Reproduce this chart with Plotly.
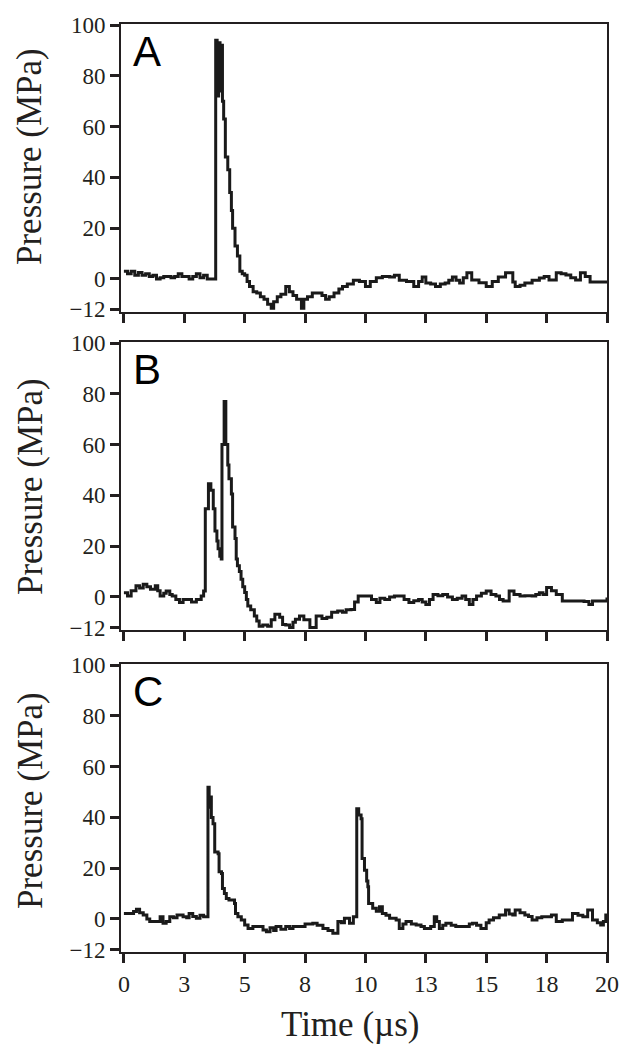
import plotly.graph_objects as go
from plotly.subplots import make_subplots

# Pressure traces (time in microseconds, pressure in MPa)
time_a = [0, 0.15, 0.3, 0.45, 0.6, 0.75, 0.9, 1.05, 1.2, 1.35, 1.5, 1.65, 1.8, 1.95, 2.1,
          2.25, 2.4, 2.55, 2.7, 2.85, 3.0, 3.15, 3.3, 3.45, 3.6, 3.72, 3.8, 3.86, 3.92, 3.98,
          4.04, 4.08, 4.13, 4.2, 4.3, 4.38, 4.45, 4.5, 4.6, 4.7, 4.8, 4.9, 5.0, 5.1, 5.2,
          5.35, 5.5, 5.65, 5.8, 5.95, 6.1, 6.2, 6.35, 6.5, 6.7, 6.85, 7.0, 7.15, 7.35, 7.45,
          7.6, 7.8, 8.0, 8.2, 8.35, 8.5, 8.7, 8.9, 9.05, 9.25, 9.5, 9.75, 10.0, 10.2, 10.45,
          10.7, 11.0, 11.2, 11.4, 11.7, 12.0, 12.2, 12.35, 12.5, 12.7, 12.9, 13.1, 13.3, 13.45,
          13.6, 13.75, 13.9, 14.05, 14.2, 14.4, 14.7, 15.0, 15.25, 15.5, 15.8, 16.1, 16.2,
          16.4, 16.6, 16.9, 17.2, 17.4, 17.6, 17.9, 18.1, 18.3, 18.5, 18.7, 18.9, 19.1, 19.3,
          19.6, 20.0]
pressure_a = [3, 2, 3, 1.5, 2.5, 1.5, 2, 1, 1.5, 0, 0.5, 1, 1, 0.5, 1,
              2, 1, 1, 0, 1, 2, 0.5, 1.5, 0, 0, 0, 94, 72, 93, 74,
              92, 70, 63, 48, 43, 34, 27, 20, 13, 9, 3, 2, 1.5, -1, -3,
              -5, -5.5, -7, -8, -10, -11.5, -9, -7, -6, -3, -5, -6.5, -8, -11.5, -8,
              -7, -5.5, -5.5, -6.5, -8, -7, -5.5, -4, -3, -2, -0.5, -1, -3, -1, 0.5,
              1, 0.8, 1.5, -0.5, -1, -3, -1, 0.8, -1.6, -2, -3, -2, -1.6, -0.5,
              0.8, -0.5, -1.6, 0.5, 2.4, -0.4, -1.5, -3, -1, 0.8, 2.4, -1.2, -3,
              -2.5, -1.6, -0.5, 0.4, 1, -0.4, 2.4, 2, 1.6, 0.5, -0.4, 2.4, 1, -1.2,
              -1.2, -1.2]

time_b = [0, 0.15, 0.3, 0.5, 0.65, 0.8, 0.95, 1.1, 1.3, 1.4, 1.5, 1.65, 1.75, 1.9, 2.0,
          2.15, 2.3, 2.45, 2.6, 2.8, 3.0, 3.2, 3.3, 3.37, 3.5, 3.6, 3.7, 3.77, 3.85, 3.9,
          3.97, 4.03, 4.06, 4.15, 4.22, 4.3, 4.35, 4.45, 4.5, 4.6, 4.65, 4.7, 4.78, 4.85,
          4.92, 5.0, 5.07, 5.13, 5.25, 5.4, 5.5, 5.6, 5.75, 5.95, 6.1, 6.25, 6.45, 6.57,
          6.7, 6.86, 7.0, 7.1, 7.27, 7.45, 7.7, 7.96, 8.2, 8.4, 8.6, 8.85, 9.05, 9.2, 9.4,
          9.55, 9.7, 9.9, 10.1, 10.25, 10.45, 10.6, 10.8, 11.0, 11.2, 11.4, 11.6, 11.8,
          12.0, 12.2, 12.35, 12.5, 12.65, 12.8, 13.0, 13.2, 13.4, 13.6, 13.8, 14.0, 14.15,
          14.3, 14.45, 14.6, 14.8, 15.0, 15.2, 15.4, 15.55, 15.7, 15.95, 16.15, 16.4, 16.6,
          16.9, 17.05, 17.2, 17.35, 17.5, 17.7, 17.9, 18.15, 18.5, 18.85, 19.05, 19.25,
          19.4, 19.7, 20.0]
pressure_b = [1.7, 0.4, 2.5, 4.4, 3.5, 5, 4, 3, 4.4, 2.5, 0.4, 1.5, 2.4, 1, 0.4,
              -1, -2.2, -1, -1, -2, -1, 0.4, 2.4, 34.7, 44.6, 42, 34.7, 26, 22, 19,
              16, 15, 60, 77, 60, 52, 46.6, 40.6, 27.6, 23, 15, 12.3, 10, 7,
              4, 1.8, -1, -3.6, -5, -7.5, -9.5, -11.5, -11, -11.5, -9, -6.8, -8, -10.8,
              -11, -12, -10, -8.8, -7.5, -9, -12, -7.5, -8.5, -8, -6, -5.5, -6, -5, -4.9,
              -2, 0.4, 0.4, 0.4, -1, -2.2, -0.5, -1, 0, 0.4, 0.4, -1, -2.2,
              -1.5, -1, -2, -3, -1, 1, 0.5, 1, 0, -1, -0.5, 0.4, -1,
              -3, -1, 0.4, 1.5, 2.4, 1, 0.4, -1, -1.6, 2.4, 1, 0.4, 0.5,
              0.4, 1, 1.7, 1, 3.7, 2.5, 1, -1.6, -1.6, -1.6, -1.8, -3,
              -1.6, -1.6, -0.2]

time_c = [0, 0.2, 0.4, 0.52, 0.65, 0.8, 0.95, 1.07, 1.3, 1.5, 1.62, 1.75, 1.9, 2.05, 2.2,
          2.45, 2.6, 2.7, 2.85, 3.0, 3.15, 3.3, 3.42, 3.48, 3.53, 3.58, 3.62, 3.69, 3.76,
          3.9, 3.94, 4.04, 4.08, 4.16, 4.24, 4.35, 4.45, 4.58, 4.62, 4.72, 4.86, 5.0, 5.14,
          5.34, 5.5, 5.62, 5.76, 5.9, 6.05, 6.2, 6.3, 6.5, 6.7, 6.86, 7.0, 7.27, 7.5, 7.82,
          8.0, 8.24, 8.45, 8.65, 8.86, 9.0, 9.13, 9.34, 9.5, 9.55, 9.64, 9.72, 9.82, 9.86,
          9.96, 10.05, 10.1, 10.13, 10.3, 10.45, 10.58, 10.7, 10.85, 11.0, 11.27, 11.4,
          11.55, 11.68, 11.9, 12.1, 12.3, 12.44, 12.7, 12.85, 12.95, 13.06, 13.2, 13.33,
          13.55, 13.74, 14.0, 14.16, 14.3, 14.43, 14.6, 14.78, 15.0, 15.12, 15.3, 15.54,
          15.8, 15.95, 16.1, 16.2, 16.4, 16.6, 16.75, 16.9, 17.1, 17.3, 17.5, 17.7, 17.9,
          18.15, 18.35, 18.57, 18.8, 19.0, 19.2, 19.4, 19.6, 19.74, 19.85, 19.95]
pressure_c = [2.2, 2.2, 2.9, 3.8, 2.5, 1.6, 0, -1, -1, 0.9, -1.7, -1, 0.9, 0.5, 1.6,
              0.9, 0.5, 2.2, 1, 0.3, 1.5, 0.9, 0.9, 51.9, 44, 48, 40, 37.5, 26.4,
              25.7, 18.6, 17.9, 12, 10, 8.1, 7.5, 7.5, 6.1, 2.2, 0.9, -0.4, -2.4, -3.7,
              -3, -3, -3, -4.3, -5, -3.5, -4.5, -3, -4, -3, -3.7, -3, -3, -2, -1.7,
              -2.5, -3.7, -4.5, -5.6, -1, -1.5, 0.3, -1.7, 0.9, 0.9, 43.4, 41, 39.5, 23.8,
              19.2, 15, 12.7, 6.1, 4.2, 3, 4.8, 2.2, 1.5, 0.3, -0.4, -3.7,
              -2, -1, -2, -2.4, -3, -3.7, -3, 0.9, -1, -3.7, -2.5, -1.7,
              -2.5, -3, -3, -3, -2, -1.7, -2.5, -3.7, -1.5, -0.4, 0.5, 1.6,
              3.5, 2, 1.6, 3.5, 2.5, 1.6, 1, -0.4, 0.5, 0.9, 0.9, 1.6, -1,
              -0.4, -0.4, 2.2, 1.5, 0.9, 3.5, -0.4, -1.5, -2.4, -1, 2.2]

panel_labels = ['A', 'B', 'C']
x_ticks = [0, 2.5, 5, 7.5, 10, 12.5, 15, 17.5, 20]
x_tick_text = ['0', '3', '5', '8', '10', '13', '15', '18', '20']
y_ticks = [-12, 0, 20, 40, 60, 80, 100]

ink = '#231f20'
serif = 'Liberation Serif, Times New Roman, serif'

fig = make_subplots(rows=3, cols=1)
series = [(time_a, pressure_a), (time_b, pressure_b), (time_c, pressure_c)]
for i, (t, p) in enumerate(series):
    fig.add_trace(go.Scatter(x=t, y=p, mode='lines', line_shape='hv',
                             line=dict(color='#1a1a1a', width=3),
                             showlegend=False), row=i+1, col=1)

# Panel positions (paper fractions)
domains = [[0.6897, 1.0], [0.3470, 0.6573], [0.0, 0.3103]]
for i in range(3):
    fig.update_xaxes(row=i+1, col=1, range=[-0.12, 20], tickvals=x_ticks,
                     ticktext=x_tick_text, showticklabels=(i == 2), automargin=False,
                     ticks='outside', ticklen=9, tickwidth=3, tickcolor=ink,
                     showline=True, linewidth=2, linecolor=ink, mirror=True,
                     showgrid=False, zeroline=False,
                     tickfont=dict(family=serif, size=24, color=ink))
    fig.update_yaxes(row=i+1, col=1, range=[-13, 100.4], tickvals=y_ticks,
                     domain=domains[i], automargin=False,
                     ticks='outside', ticklen=9, tickwidth=3, tickcolor=ink,
                     showline=True, linewidth=2, linecolor=ink, mirror=True,
                     showgrid=False, zeroline=False,
                     tickfont=dict(family=serif, size=23, color=ink))

# y-axis titles and panel letters
title_y = [157, 487, 801]
for i in range(3):
    fig.add_annotation(text='Pressure (MPa)', textangle=-90, showarrow=False,
                       xref='paper', yref='paper',
                       x=(30 - 121) / 486, y=(952 - title_y[i]) / 928,
                       xanchor='center', yanchor='middle',
                       font=dict(family=serif, size=35, color=ink))
    yref = 'y domain' if i == 0 else 'y%d domain' % (i + 1)
    fig.add_annotation(text=panel_labels[i], showarrow=False,
                       xref='paper', yref=yref, x=0.02, y=1,
                       xanchor='left', yanchor='top', yshift=-2,
                       font=dict(family='Liberation Sans, Arial, sans-serif',
                                 size=42, color='#000000'))

fig.add_annotation(text='Time (\u00b5s)', showarrow=False, xref='paper', yref='paper',
                   x=(350 - 121) / 486, y=(952 - 1025) / 928,
                   xanchor='center', yanchor='middle',
                   font=dict(family=serif, size=35, color=ink))

# the page body adds an 8 px offset, so the figure is sized to fit inside the window
fig.update_layout(width=621, height=1048, paper_bgcolor='white', plot_bgcolor='white',
                  margin=dict(l=113, r=22, t=16, b=104))

fig.write_html('out.html')
